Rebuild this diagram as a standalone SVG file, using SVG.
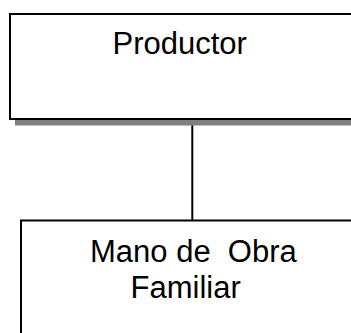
<svg xmlns="http://www.w3.org/2000/svg" width="351" height="333" viewBox="0 0 351 333">
<style>
.box{fill:#fff;stroke:#000;stroke-width:2}
.shadow{fill:#808080}
.lbl{font-family:"Liberation Sans",Arial,sans-serif;font-size:31px;fill:#000;white-space:pre}
.conn{stroke:#000;stroke-width:2;fill:none}
</style>
<rect width="351" height="333" fill="#fff"/>
<g id="connectors">
<line class="conn" x1="192.3" y1="120" x2="192.3" y2="221"/>
</g>
<g id="productor">
<rect class="shadow" x="15" y="20" width="345" height="105.5"/>
<rect class="box" x="10" y="14" width="350" height="105"/>
<text class="lbl" x="112.5" y="54">Productor</text>
</g>
<g id="mano-obra">
<rect class="box" x="21" y="220.5" width="340" height="130"/>
<text class="lbl" xml:space="preserve" x="90" y="262">Mano de  Obra</text>
<text class="lbl" x="130.5" y="298">Familiar</text>
</g>
</svg>
